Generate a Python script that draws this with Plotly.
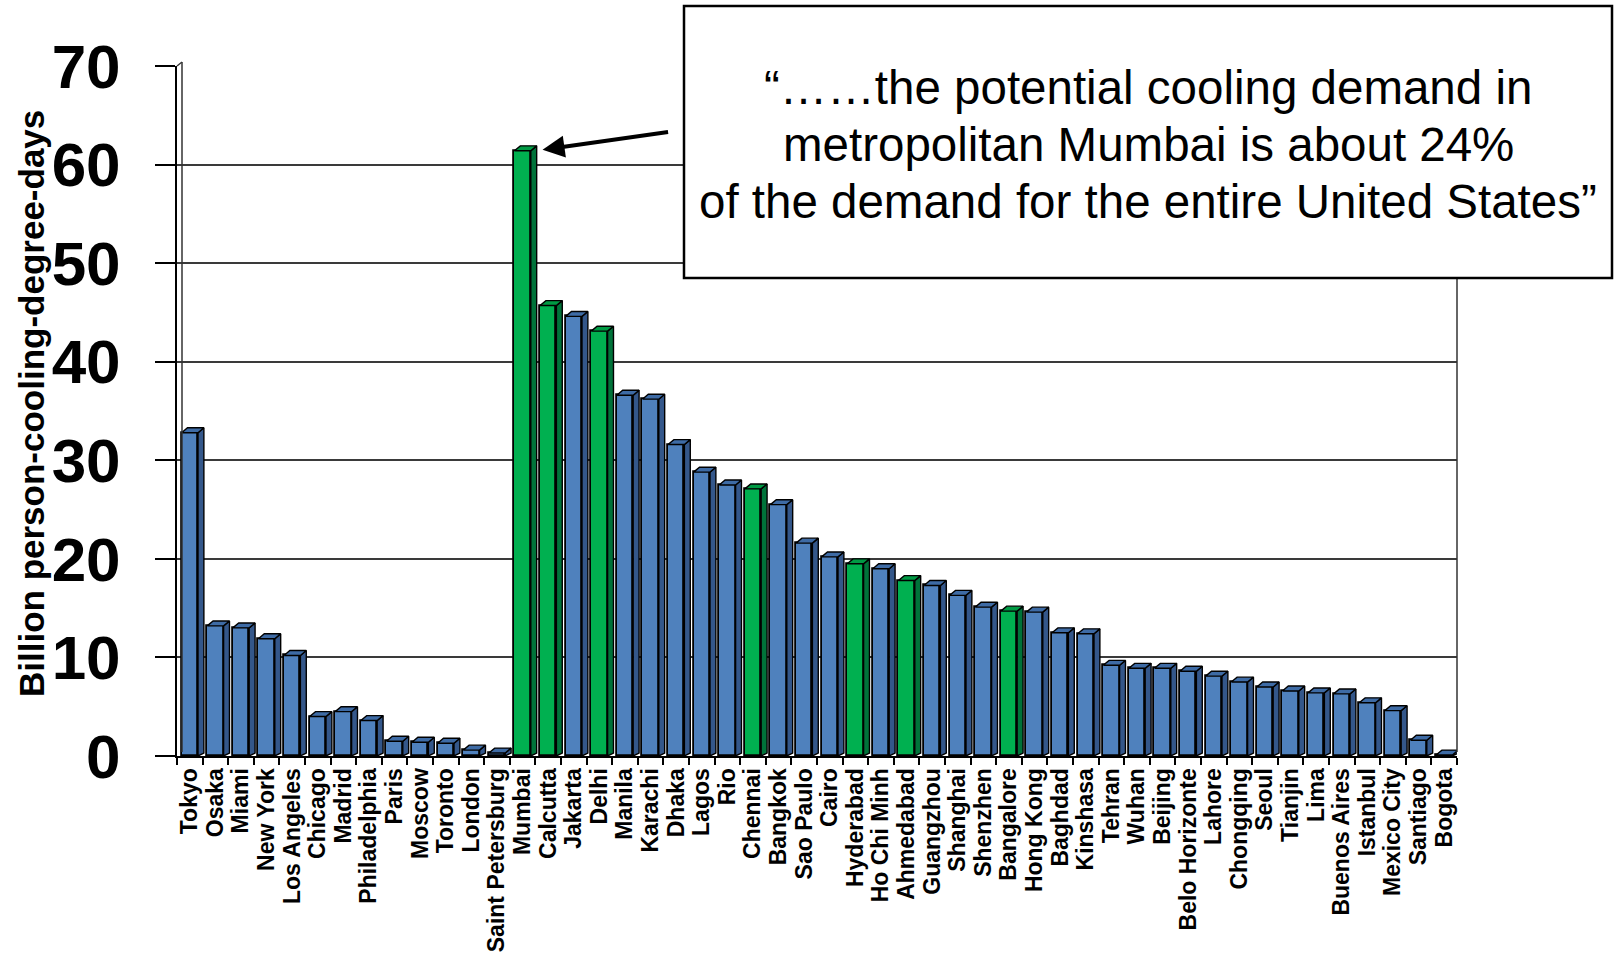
import plotly.graph_objects as go

# Potential cooling demand of 50 large metropolitan areas
cities = [
    "Tokyo", "Osaka", "Miami", "New York", "Los Angeles", "Chicago", "Madrid",
    "Philadelphia", "Paris", "Moscow", "Toronto", "London", "Saint Petersburg",
    "Mumbai", "Calcutta", "Jakarta", "Delhi", "Manila", "Karachi", "Dhaka",
    "Lagos", "Rio", "Chennai", "Bangkok", "Sao Paulo", "Cairo", "Hyderabad",
    "Ho Chi Minh", "Ahmedabad", "Guangzhou", "Shanghai", "Shenzhen", "Bangalore",
    "Hong Kong", "Baghdad", "Kinshasa", "Tehran", "Wuhan", "Beijing",
    "Belo Horizonte", "Lahore", "Chongqing", "Seoul", "Tianjin", "Lima",
    "Buenos Aires", "Istanbul", "Mexico City", "Santiago", "Bogota",
]
demand = [
    32.8, 13.2, 13.0, 11.9, 10.2, 4.0, 4.5,
    3.6, 1.5, 1.4, 1.3, 0.6, 0.3,
    61.4, 45.7, 44.6, 43.1, 36.6, 36.2, 31.6,
    28.8, 27.5, 27.1, 25.5, 21.6, 20.2, 19.5,
    19.0, 17.8, 17.3, 16.3, 15.1, 14.7,
    14.6, 12.5, 12.4, 9.2, 8.9, 8.9,
    8.6, 8.1, 7.5, 7.0, 6.6, 6.4,
    6.3, 5.4, 4.6, 1.6, 0.1,
]
indian_cities = ["Mumbai", "Calcutta", "Delhi", "Chennai", "Hyderabad",
                 "Ahmedabad", "Bangalore"]
y_ticks = [0, 10, 20, 30, 40, 50, 60, 70]

W, H = 1614, 958
L, R, T, B = 177, 157, 66, 202
PW, PH = W - L - R, H - T - B

FONT = "Liberation Sans, Arial, sans-serif"
BAR_W = 0.64      # front face width (category units)
DX, DY = 0.23, 0.5  # 3-D depth offset (x in categories, y in value units)

palette = {
    "blue": dict(face="#4F81BD", side="#34578A", top="#3E6BA5"),
    "green": dict(face="#00B050", side="#00733A", top="#009A44"),
}

xs = list(range(len(cities)))
group = ["green" if c in indian_cities else "blue" for c in cities]

fig = go.Figure()

# front faces
fig.add_trace(go.Bar(
    x=xs, y=demand, width=BAR_W,
    marker=dict(color=[palette[g]["face"] for g in group],
                line=dict(color="black", width=1.8)),
    hoverinfo="skip", showlegend=False,
))

# side and top faces for the 3-D look
for g in ("blue", "green"):
    sx, sy, tx, ty = [], [], [], []
    for i, v in enumerate(demand):
        if group[i] != g:
            continue
        r = i + BAR_W / 2
        l = i - BAR_W / 2
        sx += [r, r + DX, r + DX, r, r, None]
        sy += [0, DY * 0.6, v + DY, v, 0, None]
        tx += [l, r, r + DX, l + DX, l, None]
        ty += [v, v, v + DY, v + DY, v, None]
    fig.add_trace(go.Scatter(x=sx, y=sy, fill="toself", mode="lines",
                             fillcolor=palette[g]["side"],
                             line=dict(color="black", width=1.4),
                             hoverinfo="skip", showlegend=False))
    fig.add_trace(go.Scatter(x=tx, y=ty, fill="toself", mode="lines",
                             fillcolor=palette[g]["top"],
                             line=dict(color="black", width=1.4),
                             hoverinfo="skip", showlegend=False))

def px_x(p):
    return (p - L) / PW

def px_y(p):
    return (H - B - p) / PH

shapes = [
    # back edge of the left wall
    dict(type="line", xref="paper", yref="paper",
         x0=px_x(182), x1=px_x(182), y0=px_y(752), y1=px_y(62),
         line=dict(color="#333333", width=1.5)),
    dict(type="line", xref="paper", yref="paper",
         x0=0, x1=px_x(182), y0=1, y1=px_y(62),
         line=dict(color="#333333", width=1.5)),
    # right edge of the back wall
    dict(type="line", xref="paper", yref="paper",
         x0=1, x1=1, y0=px_y(752), y1=1,
         line=dict(color="#333333", width=1.5)),
    # quote box
    dict(type="rect", xref="paper", yref="paper", layer="above",
         x0=px_x(684), x1=px_x(1612), y0=px_y(278), y1=px_y(6),
         fillcolor="white", line=dict(color="black", width=2.5)),
]

quote_lines = [
    "\u201c\u2026\u2026the potential cooling demand in",
    "metropolitan Mumbai is about 24%",
    "of the demand for the entire United States\u201d",
]
quote_y = [87, 144, 201]

annotations = []
for txt, yy in zip(quote_lines, quote_y):
    annotations.append(dict(
        text=txt, xref="paper", yref="paper", x=px_x(1148), y=px_y(yy),
        xanchor="center", yanchor="middle", showarrow=False,
        font=dict(family=FONT, size=47.5, color="black"),
    ))

# arrow pointing at the Mumbai bar
mumbai = cities.index("Mumbai")
annotations.append(dict(
    x=mumbai + 0.78, y=demand[mumbai] + 0.1, xref="x", yref="y",
    ax=127, ay=-18, text="", showarrow=True,
    arrowhead=2, arrowsize=1.1, arrowwidth=4, arrowcolor="black",
))

# y-axis title
annotations.append(dict(
    text="<b>Billion person-cooling-degree-days</b>",
    xref="paper", yref="paper", x=px_x(31), y=px_y(404),
    xanchor="center", yanchor="middle", textangle=-90, showarrow=False,
    font=dict(family=FONT, size=35, color="black"),
))

fig.update_layout(
    width=W, height=H,
    margin=dict(l=L, r=R, t=T, b=B, autoexpand=False),
    paper_bgcolor="white", plot_bgcolor="white",
    shapes=shapes, annotations=annotations,
    bargap=0,
    xaxis=dict(
        range=[-0.5, len(cities) - 0.5],
        tickmode="array", tickvals=xs, ticktext=cities,
        tickangle=-90, ticks="", automargin=False,
        tickfont=dict(family=FONT, size=23, color="black", weight="bold"),
        ticklabelstandoff=1,
        showline=True, linecolor="black", linewidth=2,
        showgrid=False, zeroline=False, fixedrange=True,
        minor=dict(tick0=-0.5, dtick=1, ticks="outside", ticklen=7,
                   tickwidth=1.5, tickcolor="black", showgrid=False),
    ),
    yaxis=dict(
        range=[0, 70], tickmode="array", tickvals=y_ticks,
        ticks="outside", ticklen=20, tickwidth=2, tickcolor="black",
        automargin=False,
        tickfont=dict(family=FONT, size=62, color="black", weight="bold"),
        ticklabelstandoff=22,
        showline=True, linecolor="black", linewidth=2,
        showgrid=True, gridcolor="#3a3a3a", gridwidth=2,
        zeroline=False, fixedrange=True,
    ),
)

fig.write_html("out.html")
